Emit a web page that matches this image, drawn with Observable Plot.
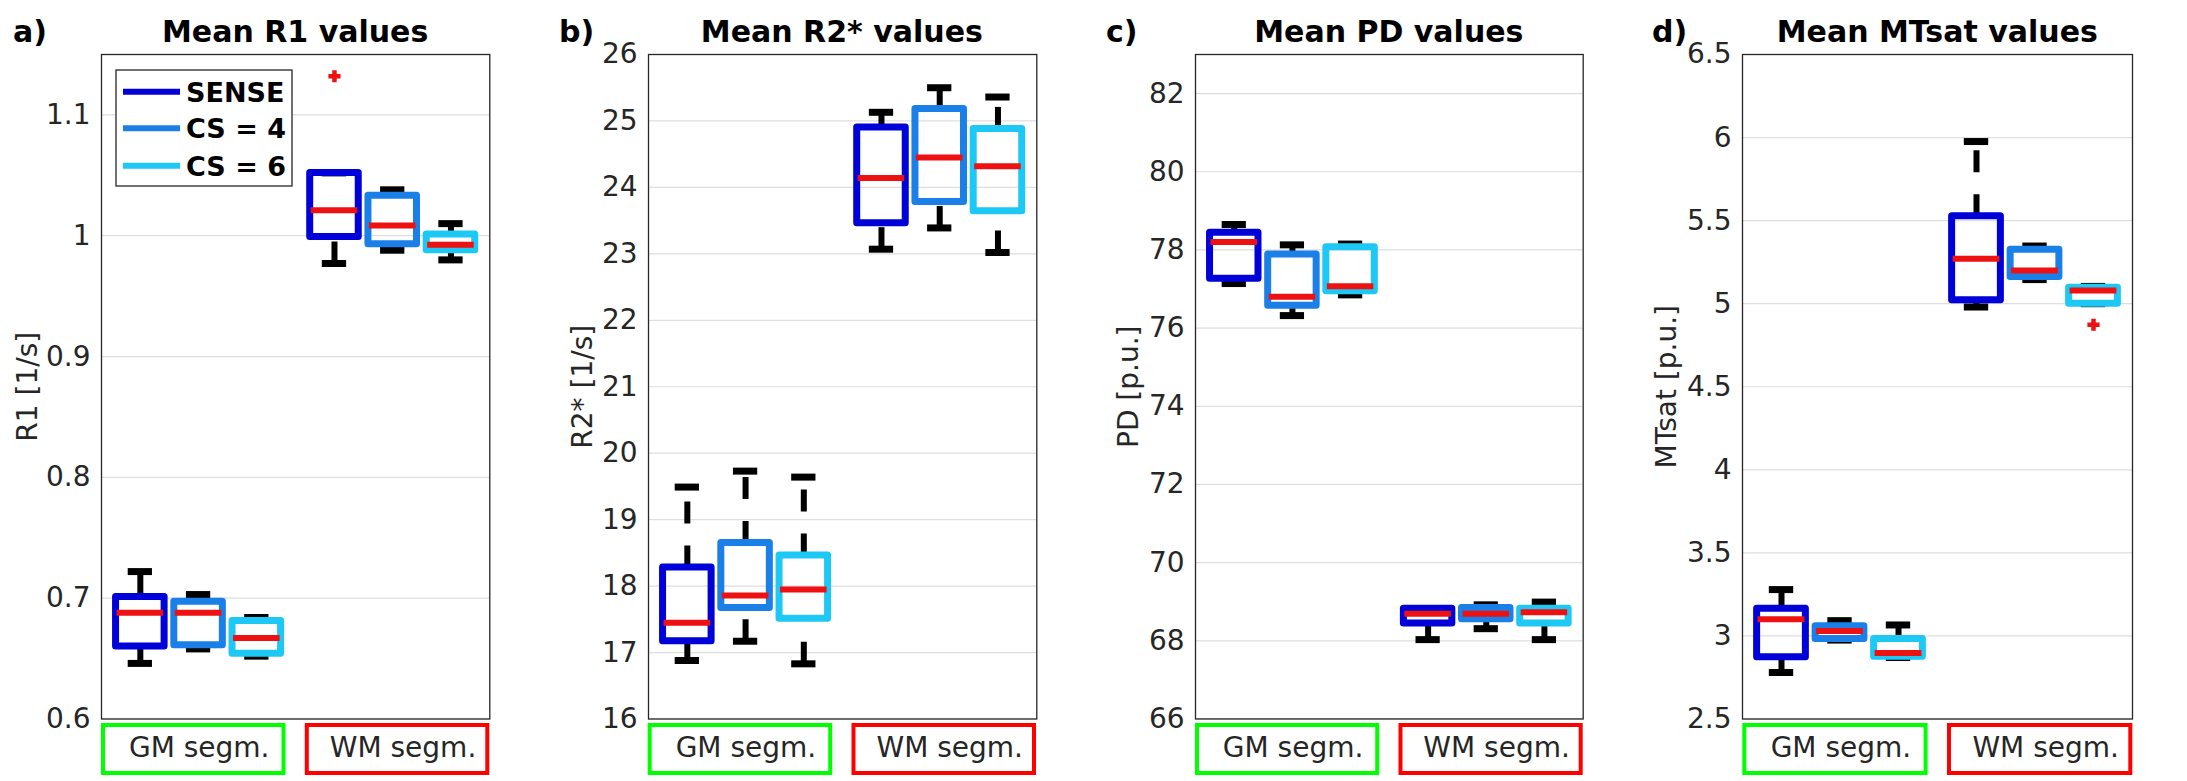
<!DOCTYPE html>
<html><head><meta charset="utf-8">
<script src="https://cdn.jsdelivr.net/npm/d3@7"></script>
<script src="https://cdn.jsdelivr.net/npm/@observablehq/plot@0.6"></script>
<style>
body{margin:0;background:#fff;}
#root{position:relative;width:2187px;height:781px;overflow:hidden;background:#fff;font-family:"DejaVu Sans";}
#root > svg{position:absolute;}
</style></head><body><div id="root"></div>
<script>
// categories
const groups = ["GM segm.", "WM segm."];
const methods = ["SENSE", "CS = 4", "CS = 6"];
// box statistics: [lower whisker, Q1, median, Q3, upper whisker]
// order: GM SENSE, GM CS=4, GM CS=6, WM SENSE, WM CS=4, WM CS=6
const r1Stats = [
  [0.646, 0.660, 0.688, 0.701, 0.722],
  [0.658, 0.661, 0.688, 0.697, 0.703],
  [0.652, 0.654, 0.667, 0.681, 0.684],
  [0.977, 0.999, 1.021, 1.052, 1.052],
  [0.988, 0.993, 1.0085, 1.033, 1.038],
  [0.980, 0.988, 0.9926, 1.001, 1.010]
];
const r1Outliers = [{box: 3, value: 1.132}];
const r2Stats = [
  [16.88, 17.17, 17.45, 18.28, 19.49],
  [17.17, 17.67, 17.86, 18.65, 19.73],
  [16.83, 17.51, 17.95, 18.46, 19.64],
  [23.07, 23.46, 24.14, 24.90, 25.13],
  [23.39, 23.78, 24.45, 25.18, 25.50],
  [23.02, 23.64, 24.32, 24.88, 25.36]
];
const r2Outliers = [];
const pdStats = [
  [77.14, 77.26, 78.20, 78.44, 78.65],
  [76.32, 76.57, 76.80, 77.88, 78.13],
  [76.85, 76.94, 77.07, 78.07, 78.15],
  [68.03, 68.44, 68.69, 68.82, 68.82],
  [68.31, 68.55, 68.69, 68.84, 68.92],
  [68.03, 68.44, 68.73, 68.82, 68.99]
];
const pdOutliers = [];
const mtStats = [
  [2.780, 2.871, 3.100, 3.163, 3.279],
  [2.975, 2.982, 3.030, 3.058, 3.092],
  [2.870, 2.875, 2.898, 2.982, 3.066],
  [4.980, 5.020, 5.270, 5.526, 5.976],
  [5.145, 5.160, 5.200, 5.325, 5.347],
  [5.000, 5.000, 5.080, 5.096, 5.104]
];
const mtOutliers = [{box: 5, value: 4.873}];
// tick values
const r1Ticks = [0.6, 0.7, 0.8, 0.9, 1, 1.1];
const r2Ticks = [16, 17, 18, 19, 20, 21, 22, 23, 24, 25, 26];
const pdTicks = [66, 68, 70, 72, 74, 76, 78, 80, 82];
const mtTicks = [2.5, 3, 3.5, 4, 4.5, 5, 5.5, 6, 6.5];

const methodColors = {"SENSE": "#0000d8", "CS = 4": "#1a80e8", "CS = 6": "#1ec8f5"};
const groupColors = {"GM segm.": "#00ff00", "WM segm.": "#ff0000"};
const medianColor = "#ee1111";

const panels = [
  {letter: "a)", title: "Mean R1 values", label: "R1 [1/s]", stats: r1Stats, outliers: r1Outliers, domain: [0.6, 1.15], ticks: r1Ticks, left: 101, width: 388.3, letterX: 13, labelOffset: 84, legend: true},
  {letter: "b)", title: "Mean R2* values", label: "R2* [1/s]", stats: r2Stats, outliers: r2Outliers, domain: [16, 26], ticks: r2Ticks, left: 647.7, width: 388.3, letterX: 559, labelOffset: 76},
  {letter: "c)", title: "Mean PD values", label: "PD [p.u.]", stats: pdStats, outliers: pdOutliers, domain: [66, 83], ticks: pdTicks, left: 1195, width: 387.7, letterX: 1106, labelOffset: 77},
  {letter: "d)", title: "Mean MTsat values", label: "MTsat [p.u.]", stats: mtStats, outliers: mtOutliers, domain: [2.5, 6.5], ticks: mtTicks, left: 1742.3, width: 390, letterX: 1652, labelOffset: 86}
];

const root = document.getElementById("root");
const frameTop = 54, frameBottom = 718.5;
const mL = 110, mR = 10, mT = 20, mB = 20;
const fmt = d3.format("~g");

// overlay for titles, legend and category boxes
const overlay = d3.create("svg").attr("width", 2187).attr("height", 781)
  .style("left", "0px").style("top", "0px").attr("font-family", "DejaVu Sans");

for (const p of panels) {
  const rows = p.stats.map((s, i) => ({
    group: groups[Math.floor(i / 3)],
    method: methods[i % 3],
    pos: Math.floor(i / 3) * 2 + 1 + ((i % 3) - 1) * 0.6,
    lo: s[0], q1: s[1], med: s[2], q3: s[3], hi: s[4]
  }));
  const outRows = p.outliers.map(o => ({pos: rows[o.box].pos, value: o.value}));
  const chart = Plot.plot({
    width: mL + p.width + mR,
    height: mT + (frameBottom - frameTop) + mB,
    marginLeft: mL, marginRight: mR, marginTop: mT, marginBottom: mB,
    x: {domain: [0, 4], axis: null},
    y: {domain: p.domain},
    style: {fontFamily: "DejaVu Sans", fontSize: "28px", color: "#262626", background: "transparent", overflow: "visible"},
    marks: [
      Plot.gridY(p.ticks, {stroke: "#dedede", strokeOpacity: 1, strokeWidth: 1.2}),
      Plot.frame({stroke: "#262626", strokeWidth: 1.3}),
      Plot.axisY(p.ticks, {tickSize: 0, tickPadding: 11, tickFormat: fmt, label: p.label, labelAnchor: "center", labelArrow: "none", labelOffset: p.labelOffset, fontSize: 28}),
      Plot.link(rows, {x1: "pos", x2: "pos", y1: "lo", y2: "q1", stroke: "black", strokeWidth: 6, strokeDasharray: "22,22"}),
      Plot.link(rows, {x1: "pos", x2: "pos", y1: "q3", y2: "hi", stroke: "black", strokeWidth: 6, strokeDasharray: "22,22"}),
      Plot.ruleY(rows, {y: "lo", x1: d => d.pos - 0.125, x2: d => d.pos + 0.125, stroke: "black", strokeWidth: 7}),
      Plot.ruleY(rows, {y: "hi", x1: d => d.pos - 0.125, x2: d => d.pos + 0.125, stroke: "black", strokeWidth: 7}),
      Plot.rect(rows, {x1: d => d.pos - 0.25, x2: d => d.pos + 0.25, y1: "q1", y2: "q3", fill: "none", stroke: d => methodColors[d.method], strokeWidth: 7, strokeLinejoin: "round"}),
      Plot.ruleY(rows, {y: "med", x1: d => d.pos - 0.24, x2: d => d.pos + 0.24, stroke: medianColor, strokeWidth: 6}),
      Plot.dot(outRows, {x: "pos", y: "value", symbol: "plus", fill: medianColor, stroke: medianColor, strokeWidth: 4.5, r: 4})
    ]
  });
  chart.style.position = "absolute";
  chart.style.left = (p.left - mL) + "px";
  chart.style.top = (frameTop - mT) + "px";
  root.appendChild(chart);

  // panel letter and title
  overlay.append("text").attr("x", p.letterX).attr("y", 42).attr("font-size", 30).attr("font-weight", "bold").attr("fill", "#000").text(p.letter);
  overlay.append("text").attr("x", p.left + p.width / 2).attr("y", 42).attr("text-anchor", "middle").attr("font-size", 30).attr("font-weight", "bold").attr("fill", "#000").text(p.title);

  // category boxes below the frame
  groups.forEach((g, gi) => {
    const bw = p.width * 0.47;
    const bx = gi === 0 ? p.left + 2 : p.left + p.width - bw;
    overlay.append("rect").attr("x", bx).attr("y", 725).attr("width", bw - 2).attr("height", 48)
      .attr("fill", "none").attr("stroke", groupColors[g]).attr("stroke-width", 4);
    overlay.append("text").attr("x", bx + bw / 2 + 5).attr("y", 757).attr("text-anchor", "middle")
      .attr("font-size", 28).attr("fill", "#262626").text(g);
  });

  if (p.legend) {
    const lg = overlay.append("g");
    lg.append("rect").attr("x", 116).attr("y", 70).attr("width", 176).attr("height", 116)
      .attr("fill", "white").attr("stroke", "#262626").attr("stroke-width", 1.3);
    const ys = [91.7, 128.3, 165.7];
    methods.forEach((m, i) => {
      lg.append("line").attr("x1", 123).attr("x2", 180).attr("y1", ys[i]).attr("y2", ys[i])
        .attr("stroke", methodColors[m]).attr("stroke-width", 6);
      lg.append("text").attr("x", 186).attr("y", ys[i] + 10).attr("font-size", 27).attr("font-weight", "bold")
        .attr("fill", "#000").text(m);
    });
  }
}
root.appendChild(overlay.node());
</script></body></html>
